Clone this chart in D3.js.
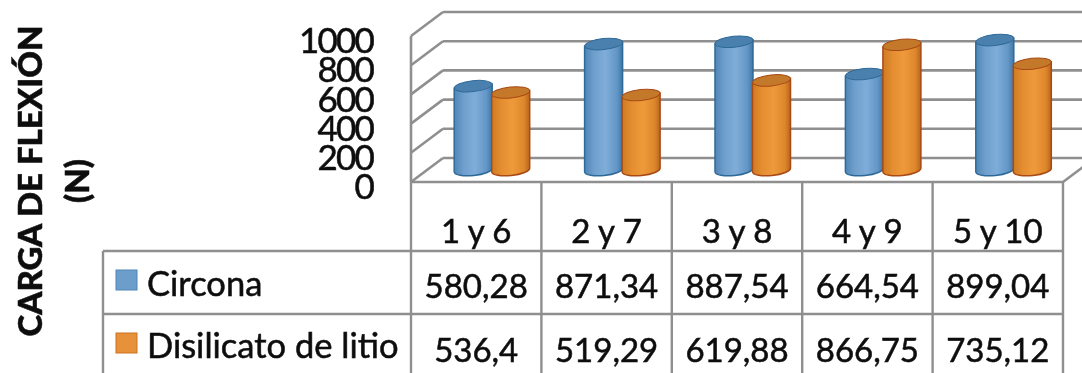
<!DOCTYPE html>
<html><head><meta charset="utf-8">
<script src="https://cdn.jsdelivr.net/npm/d3@7"></script>
<style>html,body{margin:0;padding:0;background:#fff;overflow:hidden}svg{display:block}text{font-family:Lato,"Open Sans",sans-serif;fill:#111;stroke:#111;stroke-width:.55px}</style>
</head><body><svg id="c" width="1082" height="373"></svg>
<script>
const categories=["1 y 6","2 y 7","3 y 8","4 y 9","5 y 10"];
const circona=[580.28,871.34,887.54,664.54,899.04];
const disilicato=[536.4,519.29,619.88,866.75,735.12];
const circonaLabels=["580,28","871,34","887,54","664,54","899,04"];
const disilicatoLabels=["536,4","519,29","619,88","866,75","735,12"];
const seriesNames=["Circona","Disilicato de litio"];
const yTicks=[0,200,400,600,800,1000];
const yTitle=["CARGA DE FLEXIÓN","(N)"];

const svg=d3.select("#c");
const defs=svg.append("defs");
const blur=defs.append("filter").attr("id","soft");
blur.append("feGaussianBlur").attr("stdDeviation",0.5);
function grad(id,stops){const g=defs.append("linearGradient").attr("id",id);
  stops.forEach(([o,c])=>g.append("stop").attr("offset",o).attr("stop-color",c));}
grad("gb",[[0,"#4f86b6"],[.25,"#6f9fcd"],[.55,"#7fadd9"],[.85,"#6396c6"],[1,"#3f77a6"]]);
grad("go",[[0,"#cf7a24"],[.25,"#e48d30"],[.55,"#ee9a3b"],[.85,"#de872c"],[1,"#b9651c"]]);

const left=411,right=1063,floorY=182,topY=36,depthX=32,depthY=24,tableL=103;
const x=d3.scaleBand().domain(categories).range([left,right]);
const y=d3.scaleLinear().domain([0,1000]).range([floorY,topY]);
const barY=d3.scaleLinear().domain([0,1000]).range([170,25.5]);
const grid="#8f8f8f";
const root=svg.append("g").attr("filter","url(#soft)");

// walls
const w=root.append("g").attr("stroke",grid).attr("stroke-width",2.6).attr("fill","none");
w.selectAll(".back").data(yTicks).join("line").attr("x1",left+depthX).attr("x2",1082)
  .attr("y1",d=>y(d)-depthY).attr("y2",d=>y(d)-depthY);
w.selectAll(".diag").data(yTicks).join("line").attr("x1",left).attr("x2",left+depthX)
  .attr("y1",d=>y(d)).attr("y2",d=>y(d)-depthY);
w.append("line").attr("x1",left).attr("x2",left).attr("y1",topY).attr("y2",floorY);
w.append("line").attr("x1",right).attr("x2",right+depthX).attr("y1",floorY).attr("y2",floorY-depthY);

// cylinders
const offs={0:x.bandwidth()/2-3,1:x.bandwidth()/2+34.5}, rx=19, ry=5.5, tilt=-6;
const series=[{v:circona,g:"url(#gb)",e:"#2f6a98",t:"#4a80ae"},{v:disilicato,g:"url(#go)",e:"#a84a15",t:"#c4782a"}];
categories.forEach((c,i)=>series.forEach((s,k)=>{
  const cx=x(c)+offs[k], by=barY(0), ty=barY(s.v[i]), g=root.append("g");
  g.append("path").attr("d",`M${cx-rx},${ty+2} L${cx-rx},${by+2} A${rx},${ry} ${tilt} 0 0 ${cx+rx},${by-2} L${cx+rx},${ty-2} Z`)
   .attr("fill",s.g).attr("stroke",s.e).attr("stroke-width",1.5);
  g.append("ellipse").attr("cx",cx).attr("cy",ty).attr("rx",rx).attr("ry",ry)
   .attr("transform",`rotate(${tilt} ${cx} ${ty})`).attr("fill",s.t).attr("stroke",s.e).attr("stroke-width",1);
}));

// y axis
const ax=root.append("g").attr("transform","translate(373,4)")
  .call(d3.axisLeft(y).tickValues(yTicks).tickSize(0).tickPadding(0).tickFormat(d3.format("d")));
ax.select(".domain").remove();
ax.selectAll("text").style("font-family","Lato").style("font-size","35px").style("letter-spacing","-1.8px").attr("fill","#111").attr("dy","0.36em");

// table
const rows=[251,314], t=root.append("g").attr("stroke",grid).attr("stroke-width",2.4);
x.domain().forEach(c=>t.append("line").attr("x1",x(c)).attr("x2",x(c)).attr("y1",floorY).attr("y2",373));
t.append("line").attr("x1",right).attr("x2",right).attr("y1",floorY).attr("y2",373);
t.append("line").attr("x1",tableL).attr("x2",tableL).attr("y1",rows[0]).attr("y2",373);
t.append("line").attr("x1",left).attr("x2",right).attr("y1",floorY).attr("y2",floorY);
rows.forEach(r=>t.append("line").attr("x1",tableL).attr("x2",right).attr("y1",r).attr("y2",r));

const txt=root.append("g").attr("text-anchor","middle").style("font-size","33px");
const mid=c=>x(c)+x.bandwidth()/2;
txt.selectAll(".cat").data(categories).join("text").attr("x",mid).attr("y",243).text(d=>d);
txt.selectAll(".a").data(circonaLabels).join("text").attr("x",(d,i)=>mid(categories[i])).attr("y",298).text(d=>d);
txt.selectAll(".b").data(disilicatoLabels).join("text").attr("x",(d,i)=>mid(categories[i])).attr("y",362).text(d=>d);

// legend keys
[[270,"#6d9dcb","#4f86b6",296],[333,"#e8913a","#c9701f",358]].forEach(([yy,f,st,base],i)=>{
  root.append("rect").attr("x",116).attr("y",yy).attr("width",21).attr("height",20).attr("fill",f).attr("stroke",st).attr("stroke-width",1);
  root.append("text").attr("x",147).attr("y",base).style("font-size","34.5px").text(seriesNames[i]);
});

// axis title
[[42,yTitle[0],33],[89,yTitle[1],33]].forEach(([xx,s,fs])=>root.append("text")
  .attr("transform",`translate(${xx},181) rotate(-90)`).attr("text-anchor","middle")
  .style("font-size",fs+"px").style("font-weight",900).text(s));
</script></body></html>
